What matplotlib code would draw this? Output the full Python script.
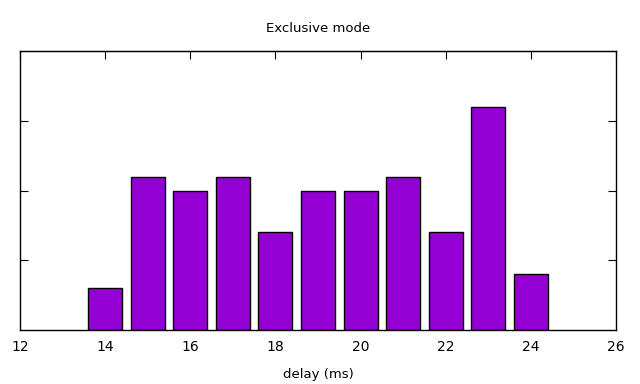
import matplotlib
matplotlib.use("Agg")
import matplotlib.pyplot as plt

delays = [14, 15, 16, 17, 18, 19, 20, 21, 22, 23, 24]
counts = [3, 11, 10, 11, 7, 10, 10, 11, 7, 16, 4]
xticks = [12, 14, 16, 18, 20, 22, 24, 26]
yticks = [5, 10, 15]

fig = plt.figure(figsize=(6.4, 3.84), dpi=100)
ax = fig.add_axes([20 / 640, 54 / 384, 596 / 640, 279 / 384])

ax.bar(delays, counts, width=0.8, color="#9400D3", edgecolor="black", linewidth=1, zorder=2)

ax.set_xlim(12, 26)
ax.set_ylim(0, 20)
ax.set_xticks(xticks)
ax.set_yticks(yticks)
ax.set_yticklabels([])
ax.tick_params(axis="x", direction="in", length=0, top=False, labelsize=10, pad=7)
ax.tick_params(axis="y", direction="in", length=6, left=True, right=True)

# inward ticks on the top edge
top = ax.secondary_xaxis("top")
top.set_xticks(xticks)
top.set_xticklabels([])
top.tick_params(direction="in", length=6)

for s in ax.spines.values():
    s.set_linewidth(1)

ax.set_title("Exclusive mode", fontsize=9.5, pad=14)
ax.set_xlabel("delay (ms)", fontsize=9.5, labelpad=10)

fig.savefig("out.png", dpi=100)
